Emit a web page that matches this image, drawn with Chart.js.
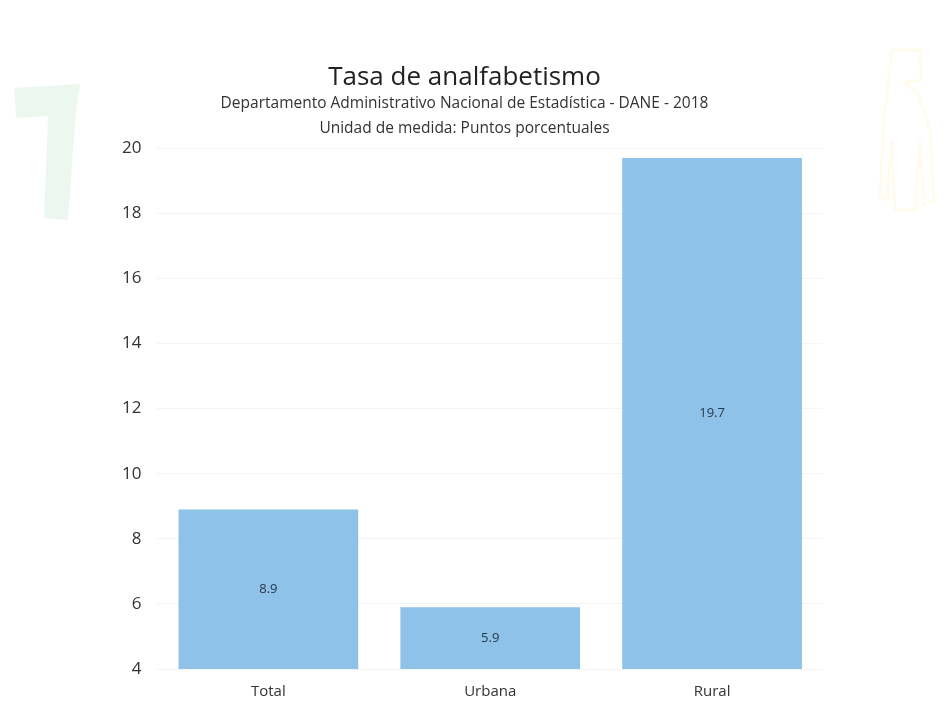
<!DOCTYPE html>
<html>
<head>
<meta charset="utf-8">
<script src="https://cdn.jsdelivr.net/npm/chart.js@4/dist/chart.umd.min.js"></script>
<style>
  html, body { margin: 0; padding: 0; background: #fff; }
  #wrap { position: absolute; left: 0; top: 0; width: 922px; height: 709px; }
  #bg { position: absolute; left: 0; top: 0; }
</style>
</head>
<body>
<svg id="bg" width="948" height="709">
  <path d="M14 88 L80 84 L76 110 L68 220 L44 218 L48 116 L16 118 Z" fill="#ecf8ef"/>
  <path d="M892 50 L920 50 L922 80 L905 82 L918 95 L930 130 L934 200 L924 205 L920 140 L915 210 L895 210 L892 140 L887 200 L880 196 L884 120 Z" fill="none" stroke="#fffcee" stroke-width="3"/>
</svg>
<div id="wrap"><canvas id="tasa"></canvas></div>
<script>
const labels = ['Total', 'Urbana', 'Rural']
const tasa = [8.9, 5.9, 19.7]

const font = "'Open Sans', 'Noto Sans', sans-serif"

// dibuja el valor en el centro de cada barra
const valueLabels = {
  id: 'valueLabels',
  afterDatasetsDraw(chart) {
    const { ctx } = chart
    const meta = chart.getDatasetMeta(0)
    ctx.save()
    ctx.font = `13px ${font}`
    ctx.fillStyle = '#26384a'
    ctx.textAlign = 'center'
    ctx.textBaseline = 'middle'
    meta.data.forEach((bar, i) => {
      const bottom = Math.min(bar.base, chart.chartArea.bottom)
      ctx.fillText(tasa[i].toFixed(1), bar.x, (bar.y + bottom) / 2)
    })
    ctx.restore()
  }
}

new Chart(document.getElementById('tasa'), {
  type: 'bar',
  data: {
    labels,
    datasets: [{
      data: tasa,
      backgroundColor: '#8fc2e8',
      borderWidth: 0,
      categoryPercentage: 0.81,
      barPercentage: 1
    }]
  },
  options: {
    responsive: true,
    maintainAspectRatio: false,
    animation: false,
    layout: { padding: { top: 63, left: 106, right: 99, bottom: 2 } },
    plugins: {
      legend: { display: false },
      tooltip: { enabled: false },
      title: {
        display: true,
        text: 'Tasa de analfabetismo',
        color: '#222',
        font: { family: font, size: 26, weight: 'normal', lineHeight: 1.1 },
        padding: { top: 0, bottom: 0 }
      },
      subtitle: {
        display: true,
        text: ['Departamento Administrativo Nacional de Estadística - DANE - 2018', 'Unidad de medida: Puntos porcentuales'],
        color: '#333',
        font: { family: font, size: 15.5, lineHeight: 1.6 },
        padding: { top: 0, bottom: 7 }
      }
    },
    scales: {
      x: {
        grid: { display: false },
        border: { display: false },
        ticks: { color: '#333', font: { family: font, size: 15 }, padding: 6 }
      },
      y: {
        min: 4,
        max: 20,
        ticks: { stepSize: 2, color: '#333', font: { family: font, size: 17 }, padding: 16 },
        grid: { color: '#f4f4f4', drawTicks: false },
        border: { display: false }
      }
    }
  },
  plugins: [valueLabels]
})
</script>
</body>
</html>
